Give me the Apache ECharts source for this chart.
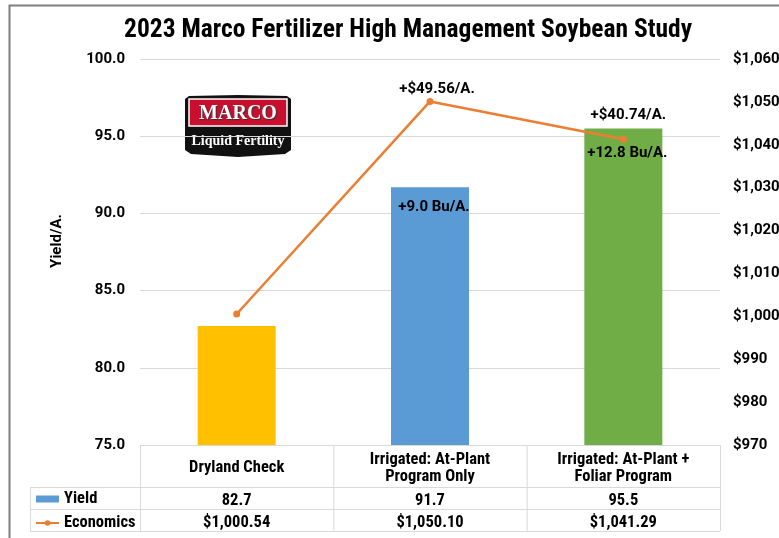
<!DOCTYPE html>
<html><head><meta charset="utf-8">
<script src="https://cdn.jsdelivr.net/npm/echarts@6/dist/echarts.min.js"></script>
<style>html,body{margin:0;padding:0;background:#fff}#c{width:779px;height:538px}</style>
</head><body><div id="c"></div>
<script>
// ---- data ----
const categories = ['Dryland Check', 'Irrigated: At-Plant\nProgram Only', 'Irrigated: At-Plant +\nFoliar Program'];
const yieldValues = [82.7, 91.7, 95.5];
const economicsValues = [1000.54, 1050.10, 1041.29];
const barColors = ['#FFC000', '#5B9BD5', '#70AD47'];
const yieldBarLabels = ['', '+9.0 Bu/A.', '+12.8 Bu/A.'];
const economicsPointLabels = ['', '+$49.56/A.', '+$40.74/A.'];
const yieldTableRow = ['82.7', '91.7', '95.5'];
const economicsTableRow = ['$1,000.54', '$1,050.10', '$1,041.29'];
const yieldAxis = {min: 75, max: 100, interval: 5};
const econAxis = {min: 970, max: 1060, interval: 10};

// ---- layout ----
const W = 779, H = 538;
const gridL = 140, gridR = 720, gridT = 59, gridB = 445;
const tableRows = [445, 487, 509, 531];
const tableLeft = 30;
const COND = "'Roboto Condensed','Liberation Sans Narrow','DejaVu Sans Condensed',sans-serif";
const ROB = "Roboto,'Noto Sans',sans-serif";
const lineCol = '#d9d9d9';
const TBL_FS = 16.5;

const chart = echarts.init(document.getElementById('c'), null, {renderer: 'canvas'});

const graphics = [];
// outer border
graphics.push({type: 'rect', shape: {x: 9.5, y: 5.5, width: 900, height: 700}, style: {fill: 'none', stroke: '#7f7f7f', lineWidth: 2}, silent: true, z: 0});
// table lines
const colStep = (gridR - gridL) / categories.length;
function hline(x1, x2, y) { graphics.push({type: 'line', shape: {x1: x1, y1: y + 0.5, x2: x2, y2: y + 0.5}, style: {stroke: lineCol, lineWidth: 1}, silent: true}); }
function vline(x, y1, y2) { graphics.push({type: 'line', shape: {x1: x + 0.5, y1: y1, x2: x + 0.5, y2: y2}, style: {stroke: lineCol, lineWidth: 1}, silent: true}); }
hline(gridL, gridR, tableRows[0]);
for (let r = 1; r < tableRows.length; r++) hline(tableLeft, gridR, tableRows[r]);
for (let c = 0; c <= categories.length; c++) vline(gridL + c * colStep, tableRows[0], tableRows[3]);
vline(tableLeft, tableRows[1], tableRows[3]);
// y axis name
graphics.push({type: 'text', x: 57, y: 241, rotation: Math.PI / 2, style: {text: 'Yield/A.', font: 'bold 15px ' + ROB, fill: '#000', textAlign: 'center', textVerticalAlign: 'middle'}});
// logo
graphics.push({type: 'group', x: 185, y: 95, children: [
  {type: 'polygon', shape: {points: [[0, 4], [4, 1], [53, 0], [102, 1], [106, 4], [106, 55], [100, 59], [53, 62], [6, 59], [0, 55]]}, style: {fill: '#111'}},
  {type: 'rect', shape: {x: 4, y: 4, width: 98, height: 27}, style: {fill: '#c8102e', stroke: '#fff', lineWidth: 1.5}},
  {type: 'text', x: 53, y: 18.5, style: {text: 'MARCO', font: 'bold 20px "Liberation Serif",serif', fill: '#fff', textAlign: 'center', textVerticalAlign: 'middle', textShadowColor: '#333', textShadowOffsetX: 1, textShadowOffsetY: 1, textShadowBlur: 1}},
  {type: 'text', x: 53, y: 46, style: {text: 'Liquid Fertility', font: 'bold 14px "Liberation Serif",serif', fill: '#fff', textAlign: 'center', textVerticalAlign: 'middle'}}
]});

const tableAxisCommon = {
  type: 'category', gridIndex: 0, position: 'bottom',
  axisLine: {show: false}, axisTick: {show: false}, splitLine: {show: false}
};
const tblLabel = {interval: 0, margin: 14, verticalAlign: 'middle', fontFamily: COND, fontWeight: 'bold', fontSize: TBL_FS, color: '#000'};

chart.setOption({
  animation: false,
  backgroundColor: '#fff',
  title: {
    text: '2023 Marco Fertilizer High Management Soybean Study',
    left: 403, top: 13, textAlign: 'center',
    textStyle: {fontFamily: COND, fontWeight: 'bold', fontSize: 25.5, color: '#000'}
  },
  legend: {
    orient: 'vertical', left: 35, top: 490.5, padding: 0, itemWidth: 23, itemHeight: 7, itemGap: 7,
    data: [{name: 'Yield', icon: 'rect'}, {name: 'Economics'}],
    textStyle: {fontFamily: COND, fontWeight: 'bold', fontSize: TBL_FS, color: '#000', lineHeight: 15},
    selectedMode: false
  },
  grid: {left: gridL, right: W - gridR, top: gridT, bottom: H - gridB, containLabel: false, outerBoundsMode: 'none'},
  xAxis: [
    {
      type: 'category', data: categories, position: 'bottom',
      axisLine: {show: true, lineStyle: {color: lineCol}}, axisTick: {show: false},
      axisLabel: {interval: 0, margin: 23, verticalAlign: 'middle', fontFamily: COND, fontWeight: 'bold', fontSize: TBL_FS, color: '#000', lineHeight: 17}
    },
    Object.assign({}, tableAxisCommon, {data: yieldTableRow, offset: 42, axisLabel: tblLabel}),
    Object.assign({}, tableAxisCommon, {data: economicsTableRow, offset: 64, axisLabel: tblLabel})
  ],
  yAxis: [
    {
      type: 'value', min: yieldAxis.min, max: yieldAxis.max, interval: yieldAxis.interval,
      axisLine: {show: false}, axisTick: {show: false},
      splitLine: {lineStyle: {color: lineCol}},
      axisLabel: {margin: 15, fontFamily: ROB, fontWeight: 'bold', fontSize: 15, color: '#000', formatter: v => v.toFixed(1)}
    },
    {
      type: 'value', min: econAxis.min, max: econAxis.max, interval: econAxis.interval, position: 'right',
      axisLine: {show: false}, axisTick: {show: false}, splitLine: {show: false},
      axisLabel: {margin: 13, fontFamily: ROB, fontWeight: 'bold', fontSize: 15, color: '#000', formatter: v => '$' + v.toLocaleString('en-US')}
    }
  ],
  series: [
    {
      name: 'Yield', type: 'bar', xAxisIndex: 0, yAxisIndex: 0, barWidth: 78,
      itemStyle: {color: '#5B9BD5'},
      data: yieldValues.map((v, i) => ({
        value: v, itemStyle: {color: barColors[i]},
        label: {show: yieldBarLabels[i] !== '', position: 'insideTop', distance: i === 2 ? 17 : 13, offset: [4, 0],
          formatter: yieldBarLabels[i], fontFamily: ROB, fontWeight: 'bold', fontSize: 15, color: '#000'}
      })),
      z: 2
    },
    {
      name: 'Economics', type: 'line', xAxisIndex: 0, yAxisIndex: 1,
      symbol: 'circle', symbolSize: 7,
      lineStyle: {color: '#ED7D31', width: 2.5}, itemStyle: {color: '#ED7D31'},
      data: economicsValues.map((v, i) => ({
        value: v,
        label: {show: economicsPointLabels[i] !== '', position: 'top', distance: 1,
          offset: i === 2 ? [5, -12] : [7, 0],
          formatter: economicsPointLabels[i], fontFamily: ROB, fontWeight: 'bold', fontSize: 15, color: '#000'}
      })),
      z: 3
    }
  ],
  graphic: graphics
});
</script></body></html>
